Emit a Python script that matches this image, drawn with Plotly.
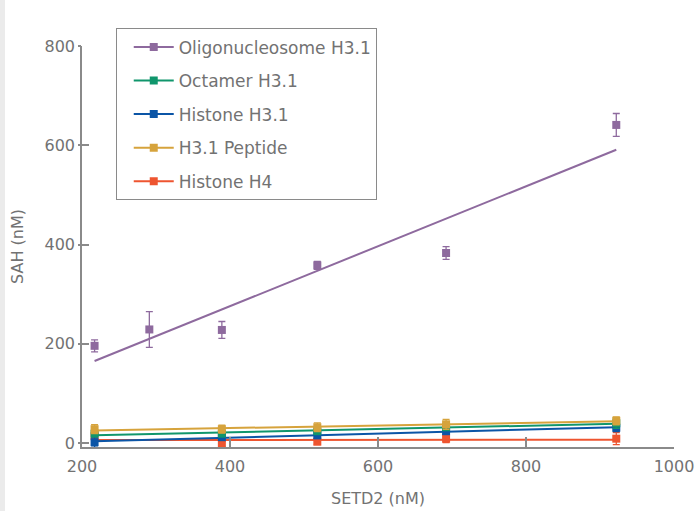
import numpy as np
import plotly.graph_objects as go

# ---------------- data ----------------
series_names = ["Oligonucleosome H3.1", "Octamer H3.1", "Histone H3.1", "H3.1 Peptide", "Histone H4"]
series_colors = ["#8e6a9e", "#10966c", "#0b55a6", "#d6a33c", "#ee5530"]

oligo_x = [217, 291, 389, 518, 692, 922]
oligo_y = [196, 229, 228, 358, 383, 641]
oligo_err = [12, 36, 17, 8, 13, 23]

low_x = [217, 389, 518, 692, 922]
octamer_y = [19, 19, 24, 32, 40]
octamer_err = [5, 5, 6, 6, 10]
histone31_y = [2, 12, 16, 24, 31]
histone31_err = [10, 6, 7, 6, 8]
peptide_y = [28, 28, 32, 38, 45]
peptide_err = [9, 8, 9, 10, 8]
h4_y = [14, -2, 3, 9, 9]
h4_err = [4, 5, 6, 8, 12]

x_ticks = [200, 400, 600, 800, 1000]
y_ticks = [0, 200, 400, 600, 800]

FONT = "DejaVu Sans"
TXT = "#727272"
AX = "#8a8a8a"

xs = [oligo_x, low_x, low_x, low_x, low_x]
ys = [oligo_y, octamer_y, histone31_y, peptide_y, h4_y]
errs = [oligo_err, octamer_err, histone31_err, peptide_err, h4_err]

fig = go.Figure()

# draw order: bottom series first so the upper ones overlap like the original
order = [4, 2, 1, 3, 0]
for i in order:
    x = np.array(xs[i], dtype=float)
    y = np.array(ys[i], dtype=float)
    slope, icpt = np.polyfit(x, y, 1)
    xl = np.array([x.min(), x.max()])
    fig.add_trace(go.Scatter(
        x=xl, y=slope * xl + icpt, mode="lines",
        line=dict(color=series_colors[i], width=2),
        showlegend=False, hoverinfo="skip"))
    fig.add_trace(go.Scatter(
        x=x, y=y, mode="markers",
        marker=dict(symbol="square", size=8, color=series_colors[i]),
        error_y=dict(type="data", array=errs[i], visible=True,
                     color=series_colors[i], thickness=1.3, width=3.5),
        showlegend=False))

# legend entries (line with square marker)
for i, name in enumerate(series_names):
    fig.add_trace(go.Scatter(
        x=[None], y=[None], mode="lines+markers", name=name,
        legendgroup=f"g{i}",
        line=dict(color=series_colors[i], width=2),
        marker=dict(symbol="square", size=8, color=series_colors[i])))

# cross-style tick part outside the y axis
fig.add_trace(go.Scatter(x=[None], y=[None], yaxis="y2", showlegend=False))

fig.update_layout(
    width=698, height=511,
    margin=dict(l=82, r=24, t=46, b=64, autoexpand=False),
    paper_bgcolor="white", plot_bgcolor="white",
    font=dict(family=FONT, color=TXT, size=16),
    xaxis=dict(range=[200, 1000], tickvals=x_ticks, ticks="inside", ticklen=10,
               tickcolor=AX, tickwidth=1.5, showline=True, linecolor=AX, linewidth=1.5,
               showgrid=False, zeroline=False, ticklabelstandoff=4, automargin=False,
               tickfont=dict(family=FONT, size=16, color=TXT),
               title=dict(text="SETD2 (nM)", font=dict(family=FONT, size=16, color=TXT), standoff=18)),
    yaxis=dict(range=[-7.8, 800], tickvals=y_ticks, ticks="inside", ticklen=7,
               tickcolor=AX, tickwidth=1.5, showline=True, linecolor=AX, linewidth=1.5,
               showgrid=False, zeroline=False, automargin=False,
               tickfont=dict(family=FONT, size=16, color=TXT), ticklabelstandoff=2,
               title=dict(text="SAH (nM)", font=dict(family=FONT, size=16, color=TXT), standoff=17)),
    yaxis2=dict(range=[-7.8, 800], overlaying="y", side="left", tickvals=y_ticks,
                ticks="outside", ticklen=3, tickcolor=AX, tickwidth=1.5, automargin=False,
                showticklabels=False, showgrid=False, zeroline=False, showline=False),
    legend=dict(x=0.057, y=1.044, xanchor="left", yanchor="top",
                bgcolor="white", bordercolor="#8a8a8a", borderwidth=1,
                font=dict(family=FONT, size=17, color=TXT),
                tracegroupgap=8.5, indentation=12, itemwidth=40),
    shapes=[dict(type="rect", xref="paper", yref="paper", x0=-0.1385, x1=-0.1301,
                 y0=-0.16, y1=1.12, fillcolor="#ebebeb", line=dict(width=0), layer="below")],
)

fig.write_html("out.html")
